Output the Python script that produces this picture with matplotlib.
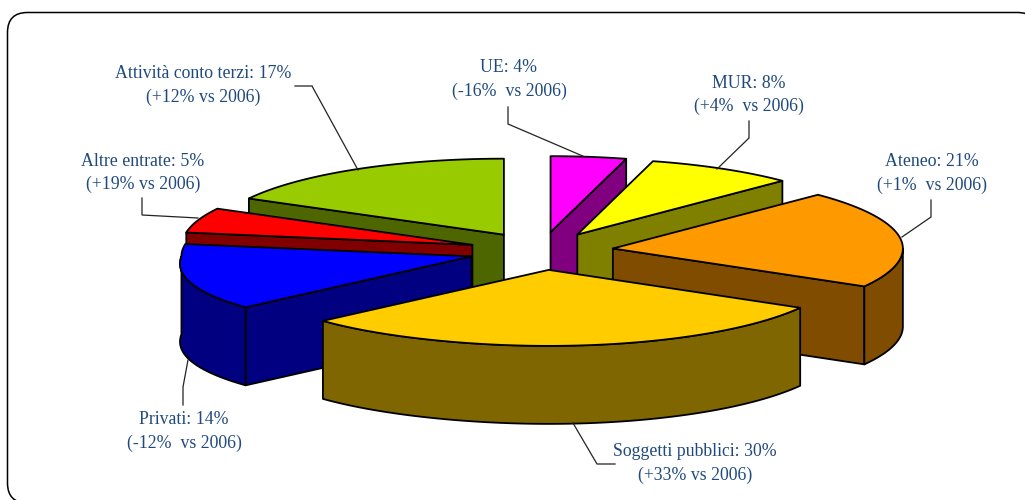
import numpy as np
import matplotlib
matplotlib.use("Agg")
import matplotlib.pyplot as plt
from matplotlib.patches import Polygon, FancyBboxPatch

categories = ["UE", "MUR", "Ateneo", "Soggetti pubblici", "Privati", "Altre entrate", "Attività conto terzi"]
shares = [4.2, 8.3, 20.8, 30.0, 14.3, 5.3, 17.1]
share_labels = ["4%", "8%", "21%", "30%", "14%", "5%", "17%"]
change_labels = ["(-16%  vs 2006)", "(+4%  vs 2006)", "(+1%  vs 2006)", "(+33% vs 2006)",
                 "(-12%  vs 2006)", "(+19% vs 2006)", "(+12% vs 2006)"]
top_colors = ["#FF00FF", "#FFFF00", "#FF9900", "#FFCC00", "#0000FF", "#FF0000", "#99CC00"]
side_colors = ["#800080", "#808000", "#804D00", "#806600", "#000080", "#800000", "#4D6600"]
label_pos = [(509, 68), (749, 83), (932, 162), (695, 452), (184, 420), (143, 161), (203.5, 74)]
leaders = [
    [(508, 107), (508, 124), (585, 157)],
    [(749, 121), (749, 138), (717, 169)],
    [(931, 200), (931, 217), (902, 237)],
    [(573, 423), (597, 464), (615, 464)],
    [(183, 405), (183, 387), (188, 360)],
    [(142, 198), (142, 215), (198, 218)],
    [(295, 86), (312, 86), (358, 170)],
]
draw_order = [0, 6, 1, 5, 2, 4, 3]

CX, CY, RX, RY, DEPTH, EXPLODE = 541, 251, 290, 76, 78, 0.25
LINE = "black"
TEXT = "#1F497D"

fig = plt.figure(figsize=(10.25, 5.0), dpi=100)
ax = fig.add_axes([0, 0, 1, 1])
ax.set_xlim(0, 1025)
ax.set_ylim(500, 0)
ax.axis("off")

ax.add_patch(FancyBboxPatch((27.5, 32.5), 990, 450.5, boxstyle="round,pad=20,rounding_size=20",
                            fc="white", ec="black", lw=1.1, zorder=0))

cum = np.concatenate([[0], np.cumsum(shares)]) / np.sum(shares) * 2 * np.pi


def pt(a, x0, y0):
    # the lower-left quadrant sits nearer the viewer in the reference's perspective
    a = np.asarray(a, dtype=float)
    widen = np.where((a > np.pi) & (a < 1.5 * np.pi), 0.05 * np.sin(2 * (a - np.pi)), 0.0)
    return x0 + RX * (1 + widen) * np.sin(a), y0 - RY * np.cos(a)


z = 1
for i in draw_order:
    a0, a1 = cum[i], cum[i + 1]
    mid = (a0 + a1) / 2
    x0 = CX + EXPLODE * RX * np.sin(mid)
    y0 = CY - EXPLODE * RY * np.cos(mid)
    walls = []
    if np.pi < a0 < 2 * np.pi:
        px, py = pt(a0, x0, y0)
        walls.append([(x0, y0), (px, py), (px, py + DEPTH), (x0, y0 + DEPTH)])
    if 0 < a1 < np.pi:
        px, py = pt(a1, x0, y0)
        walls.append([(x0, y0), (px, py), (px, py + DEPTH), (x0, y0 + DEPTH)])
    lo, hi = max(a0, np.pi / 2), min(a1, 1.5 * np.pi)
    if hi > lo:
        t = np.linspace(lo, hi, 80)
        xs, ys = pt(t, x0, y0)
        walls.append(list(zip(xs, ys)) + list(zip(xs[::-1], ys[::-1] + DEPTH)))
    for w in walls:
        ax.add_patch(Polygon(w, closed=True, fc=side_colors[i], ec=LINE, lw=1.3, joinstyle="round", zorder=z))
        z += 1
    t = np.linspace(a0, a1, 120)
    xs, ys = pt(t, x0, y0)
    ax.add_patch(Polygon([(x0, y0)] + list(zip(xs, ys)), closed=True, fc=top_colors[i], ec=LINE, lw=1.3,
                         joinstyle="round", zorder=z))
    z += 1

for cat, sl, cl, (lx, ly), ld in zip(categories, share_labels, change_labels, label_pos, leaders):
    px, py = zip(*ld)
    ax.plot(px, py, color="#222222", lw=0.9, zorder=z, solid_joinstyle="miter")
    ax.text(lx, ly, f"{cat}: {sl}", ha="center", va="center", family="Liberation Serif",
            fontsize=12.8, color=TEXT, zorder=z + 1)
    ax.text(lx, ly + 23, cl, ha="center", va="center", family="Liberation Serif",
            fontsize=12.8, color=TEXT, zorder=z + 1)

fig.savefig("out.png", dpi=100)
